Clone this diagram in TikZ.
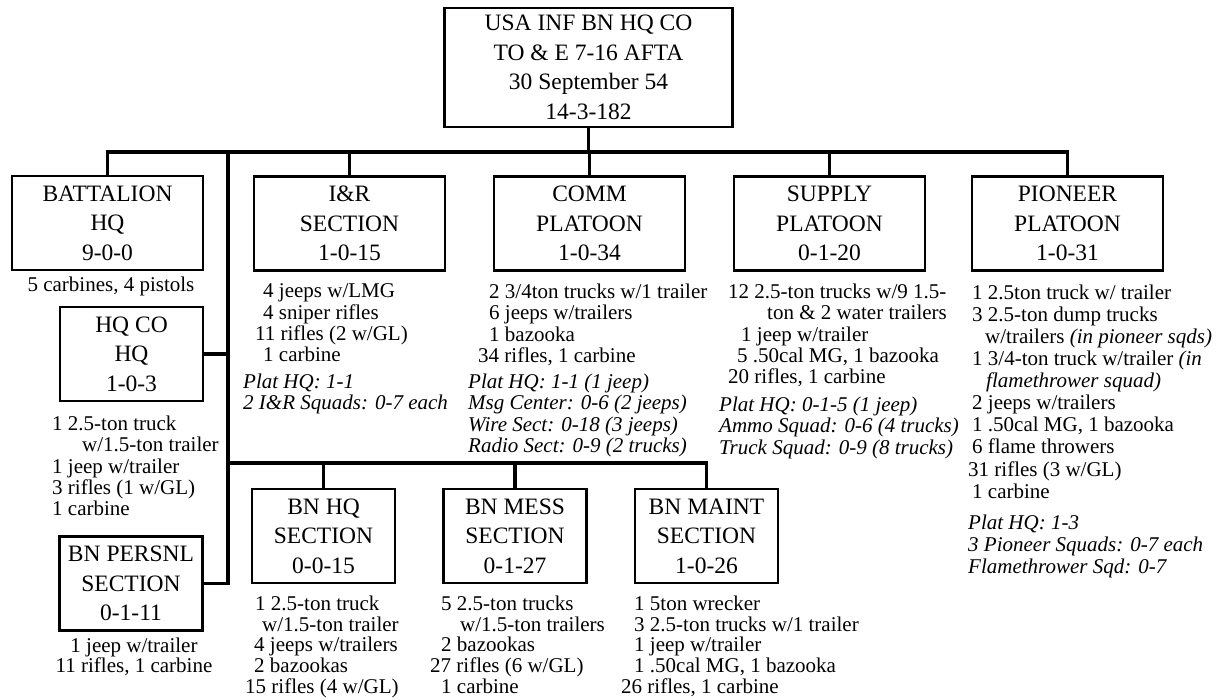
\documentclass[tikz,border=0pt]{standalone}
\usepackage{fontspec}
\setmainfont{Liberation Serif}
\usepackage{tikz}
\usetikzlibrary{positioning, calc}

\begin{document}
\begin{tikzpicture}[x=1pt, y=-1pt,
    unitbox/.style={draw, line width=2.2pt, align=center, inner sep=0pt,
        font=\fontsize{23.5}{29.5}\selectfont},
    bigbox/.style={unitbox, minimum width=191pt, minimum height=94pt},
    smallbox/.style={unitbox, minimum width=143pt, minimum height=94pt},
    kitlist/.style={align=left, inner sep=0pt, anchor=north west,
        font=\fontsize{21}{21.4}\selectfont},
    lowlist/.style={kitlist, font=\fontsize{21}{20.8}\selectfont},
    notelist/.style={kitlist, font=\fontsize{21}{21.5}\selectfont\itshape},
    orgline/.style={line width=3.2pt}]
    \useasboundingbox (0,0) rectangle (1221,700);

    % headquarters company
    \node[unitbox, minimum width=288pt, minimum height=119pt] (top) at (588.5,67.5)
        {USA INF BN HQ CO\\TO \& E 7-16 AFTA\\30 September 54\\14-3-182};

    % first row
    \node[bigbox] (bathq) at (107.5,223) {BATTALION\\HQ\\9-0-0};
    \node[bigbox] (ir) at (349.5,223.5) {I\&R\\SECTION\\1-0-15};
    \node[bigbox] (comm) at (589.5,223.5) {COMM\\PLATOON\\1-0-34};
    \node[bigbox] (supply) at (829.5,223.5) {SUPPLY\\PLATOON\\0-1-20};
    \node[bigbox] (pion) at (1067.5,223.5) {PIONEER\\PLATOON\\1-0-31};

    % left column
    \node[smallbox] (hqco) at (131.5,354) {HQ CO\\HQ\\1-0-3};
    \node[smallbox] (persnl) at (131,583.5) {BN PERSNL\\SECTION\\0-1-11};

    % second row
    \node[smallbox] (bnhq) at (323.5,536) {BN HQ\\SECTION\\0-0-15};
    \node[smallbox] (mess) at (515,536) {BN MESS\\SECTION\\0-1-27};
    \node[smallbox] (maint) at (706.5,536) {BN MAINT\\SECTION\\1-0-26};

    % connectors
    \coordinate (bus) at (588.5,152);
    \coordinate (trunk) at (228,152);
    \coordinate (bus2) at (228,463);
    \draw[orgline] (top.south) -- (bus);
    \draw[orgline] (bathq.north) |- (bus) -| (pion.north);
    \draw[orgline] (ir.north) -- (ir.north |- bus);
    \draw[orgline] (comm.north) -- (comm.north |- bus);
    \draw[orgline] (supply.north) -- (supply.north |- bus);
    \draw[orgline] (trunk) |- (persnl.east);
    \draw[orgline] (hqco.east) -- (hqco.east -| trunk);
    \draw[orgline] (bus2) -| (maint.north);
    \draw[orgline] (bnhq.north) -- (bnhq.north |- bus2);
    \draw[orgline] (mess.north) -- (mess.north |- bus2);

    % equipment
    \node[font=\fontsize{21}{21.4}\selectfont, inner sep=0pt, anchor=base] (bathqkit) at (111,292)
        {5 carbines, 4 pistols};
    \node[kitlist] (hqcokit) at (52,415.5)
        {1 2.5-ton truck\\\hspace*{30pt}w/1.5-ton trailer\\1 jeep w/trailer\\3 rifles (1 w/GL)\\1 carbine};
    \node[kitlist, align=center, anchor=north, font=\fontsize{21}{20.5}\selectfont] (persnlkit) at (134,637.5)
        {1 jeep w/trailer\\11 rifles, 1 carbine};
    \node[kitlist] (irkit) at (255,283.5)
        {\hspace*{8pt}4 jeeps w/LMG\\\hspace*{8pt}4 sniper rifles\\11 rifles (2 w/GL)\\\hspace*{8pt}1 carbine};
    \node[notelist] (irnote) at (243,373.5)
        {Plat HQ: 1-1\\2 I\&R Squads: 0-7 each};
    \node[kitlist] (commkit) at (478,283.5)
        {\hspace*{11pt}2 3/4ton trucks w/1 trailer\\\hspace*{11pt}6 jeeps w/trailers\\\hspace*{11pt}1 bazooka\\34 rifles, 1 carbine};
    \node[notelist] (commnote) at (468,373.5)
        {Plat HQ: 1-1 (1 jeep)\\Msg Center: 0-6 (2 jeeps)\\Wire Sect: 0-18 (3 jeeps)\\Radio Sect: 0-9 (2 trucks)};
    \node[kitlist] (supplykit) at (728,283.5)
        {12 2.5-ton trucks w/9 1.5-\\\hspace*{39pt}ton \& 2 water trailers\\\hspace*{13pt}1 jeep w/trailer\\\hspace*{9pt}5 .50cal MG, 1 bazooka\\20 rifles, 1 carbine};
    \node[notelist] (supplynote) at (719,396.5)
        {Plat HQ: 0-1-5 (1 jeep)\\Ammo Squad: 0-6 (4 trucks)\\Truck Squad: 0-9 (8 trucks)};
    \node[kitlist, font=\fontsize{21}{22.1}\selectfont] (pionkit) at (968,284.5)
        {\hspace*{4pt}1 2.5ton truck w/ trailer\\\hspace*{4pt}3 2.5-ton dump trucks\\\hspace*{17pt}w/trailers \textit{(in pioneer sqds)}\\\hspace*{4pt}1 3/4-ton truck w/trailer \textit{(in}\\\hspace*{18pt}\textit{flamethrower squad)}\\\hspace*{4pt}2 jeeps w/trailers\\\hspace*{4pt}1 .50cal MG, 1 bazooka\\\hspace*{4pt}6 flame throwers\\31 rifles (3 w/GL)\\\hspace*{4pt}1 carbine};
    \node[notelist, font=\fontsize{21}{22}\selectfont\itshape] (pionnote) at (968,514.5)
        {Plat HQ: 1-3\\3 Pioneer Squads: 0-7 each\\Flamethrower Sqd: 0-7};
    \node[lowlist] (bnhqkit) at (245,595.5)
        {\hspace*{10pt}1 2.5-ton truck\\\hspace*{17pt}w/1.5-ton trailer\\\hspace*{9pt}4 jeeps w/trailers\\\hspace*{9pt}2 bazookas\\15 rifles (4 w/GL)};
    \node[lowlist] (messkit) at (430,595.5)
        {\hspace*{11pt}5 2.5-ton trucks\\\hspace*{30pt}w/1.5-ton trailers\\\hspace*{11pt}2 bazookas\\27 rifles (6 w/GL)\\\hspace*{11pt}1 carbine};
    \node[lowlist] (maintkit) at (621,595.5)
        {\hspace*{13pt}1 5ton wrecker\\\hspace*{13pt}3 2.5-ton trucks w/1 trailer\\\hspace*{13pt}1 jeep w/trailer\\\hspace*{13pt}1 .50cal MG, 1 bazooka\\26 rifles, 1 carbine};
\end{tikzpicture}
\end{document}
